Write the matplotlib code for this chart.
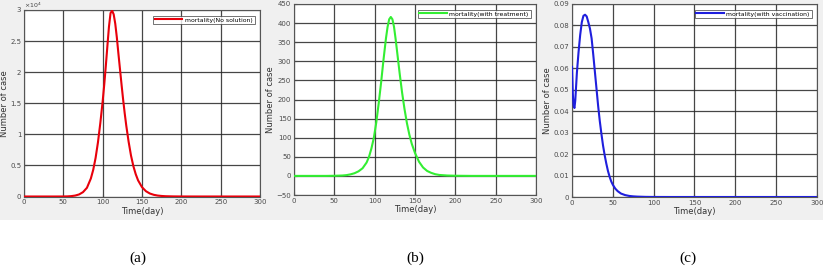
import matplotlib
matplotlib.use("Agg")
import matplotlib.pyplot as plt

# ---------------- data ----------------
t_a = [0, 40, 50, 55, 60, 65, 70, 75, 80, 85, 88, 91, 94, 97, 100, 102, 104, 106, 108,
       110, 112, 114, 116, 118, 120, 122, 124, 126, 128, 130, 133, 136, 139, 142, 145,
       150, 155, 160, 165, 170, 175, 180, 190, 200, 220, 250, 300]
y_a = [0, 0, 5, 20, 60, 150, 330, 700, 1400, 2900, 4300, 6200, 8700, 11800, 15300,
       18000, 21000, 24200, 27300, 29500, 29900, 29300, 27800, 25600, 23000, 20500,
       18000, 15600, 13400, 11400, 8800, 6600, 4900, 3600, 2600, 1500, 850, 480, 270,
       150, 85, 45, 15, 5, 1, 0, 0]

t_b = [0, 40, 50, 60, 65, 70, 75, 80, 85, 90, 93, 96, 99, 102, 105, 108, 111, 114, 116,
       118, 120, 122, 124, 126, 128, 131, 134, 137, 140, 143, 146, 150, 155, 160, 165,
       170, 175, 180, 190, 200, 220, 250, 300]
y_b = [0, 0, 0.3, 1, 2, 4, 7, 12, 20, 35, 50, 72, 100, 140, 190, 245, 305, 360, 390,
       410, 416, 410, 390, 358, 322, 268, 218, 175, 138, 108, 84, 60, 37, 22, 13, 8,
       4.5, 2.5, 1, 0.4, 0, 0, 0]

t_c = [0, 1, 2, 3, 4, 5, 6, 8, 10, 12, 14, 16, 18, 20, 22, 24, 26, 28, 30, 32, 34, 36,
       38, 40, 42, 44, 46, 48, 50, 53, 56, 60, 65, 70, 75, 80, 90, 100, 120, 150, 200,
       250, 300]
y_c = [0.0607, 0.048, 0.0425, 0.0415, 0.045, 0.0515, 0.058, 0.0675, 0.0755, 0.0815,
       0.0845, 0.085, 0.0842, 0.0815, 0.0785, 0.074, 0.0665, 0.0585, 0.0505, 0.0425,
       0.0355, 0.0295, 0.024, 0.0195, 0.0156, 0.0122, 0.0095, 0.0073, 0.0057, 0.0039,
       0.0027, 0.0016, 0.0009, 0.0005, 0.0003, 0.00018, 0.00006, 0.00002, 0, 0, 0, 0, 0]

labels = ["mortality(No solution)", "mortality(with treatment)", "mortality(with vaccination)"]
colors = ["#e8000b", "#33ee33", "#1f1fdd"]
captions = ["(a)", "(b)", "(c)"]
ylims = [(0, 30000), (-50, 450), (0, 0.09)]
yticks = [[0, 5000, 10000, 15000, 20000, 25000, 30000],
          [-50, 0, 50, 100, 150, 200, 250, 300, 350, 400, 450],
          [0, 0.01, 0.02, 0.03, 0.04, 0.05, 0.06, 0.07, 0.08, 0.09]]
xticks = [0, 50, 100, 150, 200, 250, 300]

# ---------------- figure ----------------
W, H = 829, 276
fig = plt.figure(figsize=(W / 100, H / 100), dpi=100, facecolor="white")
bg = fig.add_axes([0, 1 - 220 / H, 823 / W, 220 / H], zorder=-10)
bg.set_facecolor("#f0f0f0")
bg.set_xticks([])
bg.set_yticks([])
for s in bg.spines.values():
    s.set_visible(False)

pos_px = [(24, 10, 260, 196.5), (294, 4, 536, 195), (572, 4, 817, 197)]
cap_x = [138, 415, 688]

data = [(t_a, y_a), (t_b, y_b), (t_c, y_c)]
tick_fs = 5
for i, ((l, t, r, b), (tx, ty)) in enumerate(zip(pos_px, data)):
    ax = fig.add_axes([l / W, 1 - b / H, (r - l) / W, (b - t) / H])
    ax.set_facecolor("white")
    ax.plot(tx, ty, color=colors[i], lw=1.5, label=labels[i], zorder=3)
    ax.set_xlim(0, 300)
    ax.set_ylim(*ylims[i])
    ax.set_xticks(xticks)
    ax.set_yticks(yticks[i])
    if i == 0:
        ax.set_yticklabels(["0", "0.5", "1", "1.5", "2", "2.5", "3"])
        ax.text(0.0, 1.0, r"$\times10^4$", transform=ax.transAxes, fontsize=4.5,
                color="#444444", ha="left", va="bottom")
    elif i == 2:
        ax.set_yticklabels(["0", "0.01", "0.02", "0.03", "0.04", "0.05", "0.06", "0.07",
                            "0.08", "0.09"])
    ax.grid(True, color="#262626", lw=0.9, alpha=0.85)
    ax.set_axisbelow(True)
    for s in ax.spines.values():
        s.set_color("#555555")
        s.set_linewidth(0.8)
    ax.tick_params(direction="in", length=2, labelsize=tick_fs, colors="#4a4a4a",
                   pad=2)
    ax.set_xlabel("Time(day)", fontsize=6, color="#333333", labelpad=1)
    ax.set_ylabel("Number of case", fontsize=6, color="#333333", labelpad=1)
    leg = ax.legend(loc="upper right", fontsize=4.4, frameon=True, fancybox=False,
                    handlelength=4.5, borderpad=0.3, borderaxespad=0.9,
                    handletextpad=0.4)
    leg.get_frame().set_edgecolor("#333333")
    leg.get_frame().set_linewidth(0.6)
    fig.text(cap_x[i] / W, 1 - 258 / H, captions[i], fontsize=11,
             family="Liberation Serif", ha="center", va="center")

fig.savefig("out.png", dpi=100, facecolor="white")
